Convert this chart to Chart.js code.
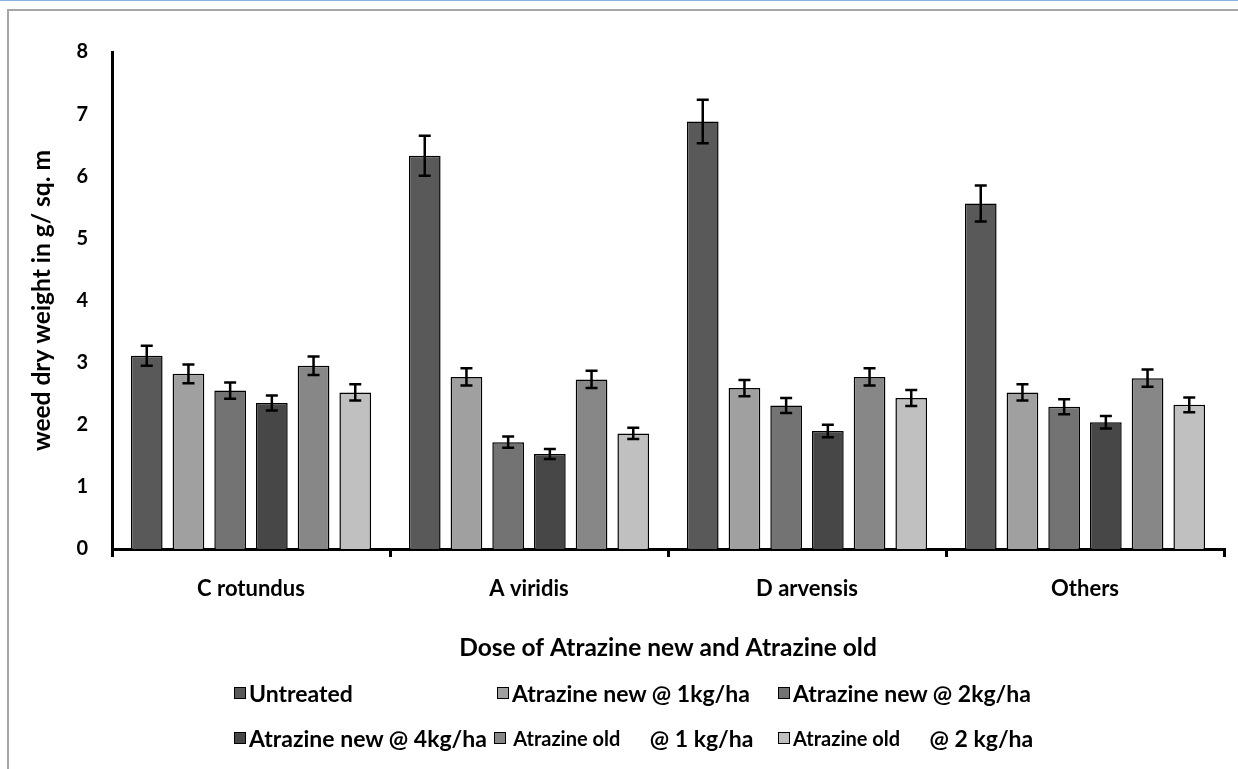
<!DOCTYPE html>
<html>
<head>
<meta charset="utf-8">
<script src="https://cdn.jsdelivr.net/npm/chart.js@4.4.0/dist/chart.umd.min.js"></script>
<style>
    html, body { margin: 0; padding: 0; background: #fff; }
    body { width: 1238px; height: 769px; position: relative; overflow: hidden; font-family: Lato, 'Open Sans', sans-serif; }
    #topLine { position: absolute; left: 0; top: 0; width: 1238px; height: 1px; background: #8db3e2; }
    #frame { position: absolute; left: 7px; top: 9px; width: 1300px; height: 900px; border: 2px solid #a6a6a6; box-sizing: border-box; }
    #chart { position: absolute; left: 0; top: 0; }
    .legend-item { position: absolute; height: 28px; display: flex; align-items: center; font-weight: bold; font-size: 23px; color: #000; white-space: pre; }
    .legend-box { width: 10px; height: 10px; border: 1px solid #000; margin-right: 3px; flex: none; }
    .legend-small { font-size: 20px; margin-right: 10px; }
</style>
</head>
<body>
<div id="topLine"></div>
<div id="frame"></div>
<canvas id="chart" width="1238" height="769"></canvas>
<div id="legend"></div>
<script>
const categories = ['C rotundus', 'A viridis', 'D arvensis', 'Others'];
const seriesNames = [
    'Untreated',
    'Atrazine new @ 1kg/ha',
    'Atrazine new @ 2kg/ha',
    'Atrazine new @ 4kg/ha',
    ' Atrazine old    @ 1 kg/ha',
    'Atrazine old    @ 2 kg/ha'
];
const untreated = [3.11, 6.33, 6.88, 5.56];
const newOneKg  = [2.82, 2.77, 2.59, 2.52];
const newTwoKg  = [2.55, 1.72, 2.31, 2.29];
const newFourKg = [2.35, 1.53, 1.90, 2.04];
const oldOneKg  = [2.95, 2.73, 2.77, 2.75];
const oldTwoKg  = [2.52, 1.86, 2.43, 2.32];

// error bar half-lengths
const untreatedErr = [0.16, 0.32, 0.35, 0.29];
const newOneKgErr  = [0.15, 0.14, 0.13, 0.13];
const newTwoKgErr  = [0.13, 0.09, 0.12, 0.12];
const newFourKgErr = [0.12, 0.08, 0.10, 0.10];
const oldOneKgErr  = [0.15, 0.14, 0.14, 0.14];
const oldTwoKgErr  = [0.13, 0.09, 0.13, 0.12];

const yTicks = [0, 1, 2, 3, 4, 5, 6, 7, 8];

const seriesValues = [untreated, newOneKg, newTwoKg, newFourKg, oldOneKg, oldTwoKg];
const seriesErrors = [untreatedErr, newOneKgErr, newTwoKgErr, newFourKgErr, oldOneKgErr, oldTwoKgErr];
const seriesColors = ['#595959', '#a0a0a0', '#737373', '#474747', '#878787', '#c0c0c0'];

const FONT = "Lato, 'Open Sans', sans-serif";

// legend laid out in a 3-column grid like the original (left, vertical centre)
const legendSpots = [[234, 693], [497, 693], [778, 693], [234, 738], [494, 738], [778, 738]];
const legendEl = document.getElementById('legend');
seriesNames.forEach((name, i) => {
    const item = document.createElement('div');
    item.className = 'legend-item';
    item.style.left = legendSpots[i][0] + 'px';
    item.style.top = (legendSpots[i][1] - 14) + 'px';
    const box = document.createElement('span');
    box.className = 'legend-box';
    box.style.background = seriesColors[i];
    item.appendChild(box);
    // "Atrazine old    @ x kg/ha" has a smaller first part in the original
    const parts = name.split('    ');
    if (parts.length > 1) {
        const small = document.createElement('span');
        small.className = 'legend-small';
        small.textContent = parts[0] + '    ';
        item.appendChild(small);
        item.appendChild(document.createTextNode(parts[1]));
    } else {
        item.appendChild(document.createTextNode(name));
    }
    legendEl.appendChild(item);
});

const errorBars = {
    id: 'errorBars',
    afterDatasetsDraw(chart) {
        const ctx = chart.ctx;
        const yScale = chart.scales.y;
        ctx.save();
        ctx.strokeStyle = '#000';
        ctx.lineWidth = 2.5;
        chart.data.datasets.forEach((ds, di) => {
            const meta = chart.getDatasetMeta(di);
            meta.data.forEach((bar, i) => {
                const v = ds.data[i];
                const e = seriesErrors[di][i];
                const top = yScale.getPixelForValue(v + e);
                const bottom = yScale.getPixelForValue(v - e);
                ctx.beginPath();
                ctx.moveTo(bar.x, top);
                ctx.lineTo(bar.x, bottom);
                ctx.moveTo(bar.x - 6, top);
                ctx.lineTo(bar.x + 6, top);
                ctx.moveTo(bar.x - 6, bottom);
                ctx.lineTo(bar.x + 6, bottom);
                ctx.stroke();
            });
        });
        ctx.restore();
    }
};

new Chart(document.getElementById('chart'), {
    type: 'bar',
    data: {
        labels: categories,
        datasets: seriesNames.map((name, i) => ({
            label: name.trim(),
            data: seriesValues[i],
            backgroundColor: seriesColors[i],
            borderColor: '#000',
            borderWidth: 1.5,
            categoryPercentage: 0.9,
            barPercentage: 0.76
        }))
    },
    options: {
        responsive: false,
        animation: false,
        layout: { padding: { left: 0, top: 52, right: 14, bottom: 100 } },
        plugins: {
            legend: { display: false },
            tooltip: { enabled: false }
        },
        scales: {
            x: {
                grid: { display: true, drawOnChartArea: false, drawTicks: true, tickLength: 8, color: '#000', lineWidth: 3 },
                border: { display: true, color: '#000', width: 3 },
                ticks: { color: '#000', padding: 19, font: { family: FONT, size: 22, weight: 'bold' } },
                title: {
                    display: true,
                    text: 'Dose of Atrazine new and Atrazine old',
                    color: '#000',
                    font: { family: FONT, size: 24.5, weight: 'bold' },
                    padding: { top: 0, bottom: 6 }
                },
                afterFit: (scale) => { scale.height = 120; }
            },
            y: {
                min: 0,
                max: 8,
                afterBuildTicks: (scale) => { scale.ticks = yTicks.map(v => ({ value: v })); },
                grid: { display: false, drawTicks: false },
                border: { display: true, color: '#000', width: 3 },
                ticks: { color: '#000', padding: 24, font: { family: FONT, size: 20, weight: 'bold' } },
                title: {
                    display: true,
                    text: 'weed dry weight in g/ sq. m',
                    color: '#000',
                    font: { family: FONT, size: 24.5, weight: 'bold' },
                    padding: { top: 27, bottom: 0 }
                },
                afterFit: (scale) => { scale.width = 112; }
            }
        }
    },
    plugins: [errorBars]
});
</script>
</body>
</html>
